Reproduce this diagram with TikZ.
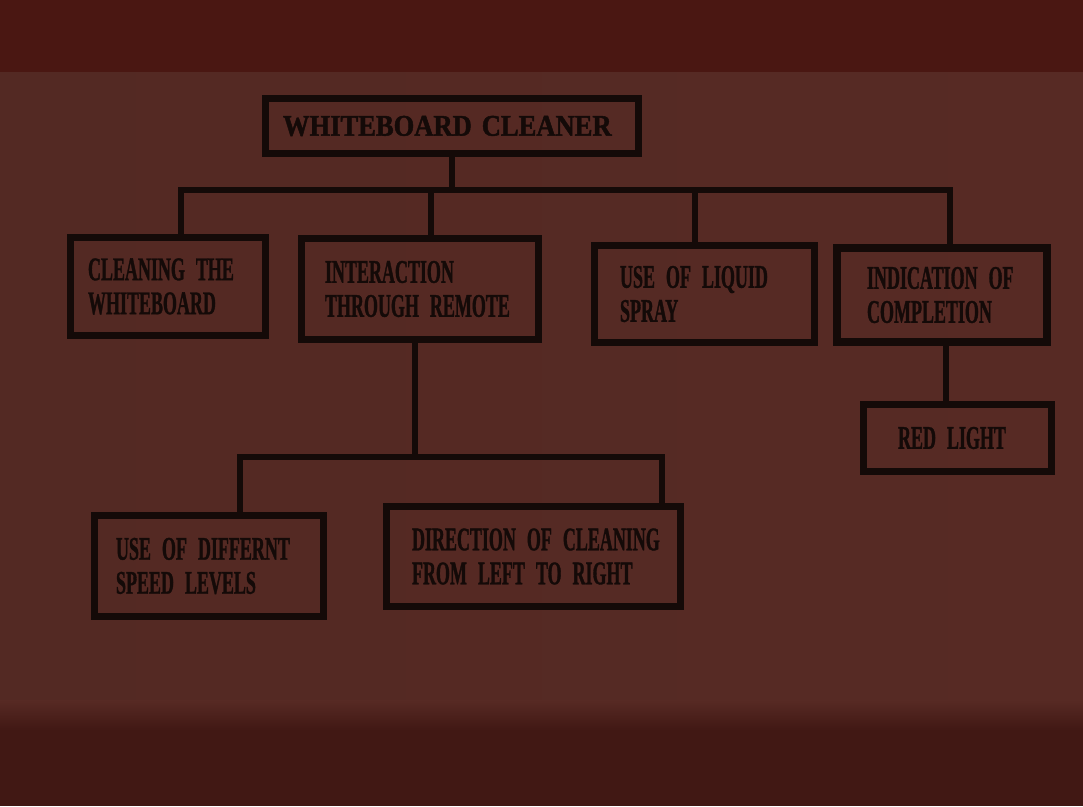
\documentclass[tikz,border=0pt]{standalone}
\usepackage{fontspec}
\newfontfamily\titlefont[FakeStretch=0.885,FakeBold=1.5]{Liberation Serif Bold}
\newfontfamily\boxfont[FakeStretch=0.545,FakeBold=1.0,WordSpace=1.2]{Liberation Serif Bold}
\definecolor{bgtop}{HTML}{4A1712}
\definecolor{bgmid}{HTML}{572A24}
\definecolor{bgmidl}{HTML}{532923}
\definecolor{bgbot}{HTML}{411814}
\definecolor{ink}{HTML}{140A08}
\begin{document}
\begin{tikzpicture}[x=1pt,y=-1pt,
  box/.style={draw=ink, line width=7pt, outer sep=0pt, anchor=north west, align=left,
    font=\boxfont\fontsize{33}{34}\selectfont, text=ink, inner ysep=0pt},
  conn/.style={draw=ink, line width=6pt}]
\useasboundingbox (0,0) rectangle (1083,806);
% background
\fill[bgtop] (0,0) rectangle (1083,72);
\shade[left color=bgmidl, right color=bgmid] (0,72) rectangle (1083,706);
\shade[top color=bgmid, bottom color=bgbot] (0,700) rectangle (1083,730);
\fill[bgbot] (0,730) rectangle (1083,806);
% nodes
\node[box, font=\titlefont\fontsize{30}{32}\selectfont, minimum width=373pt, minimum height=55pt,
  text width=338pt, inner xsep=17.5pt] (title) at (265.5,98.5) {\mbox{WHITEBOARD CLEANER}};
\node[box, minimum width=195pt, minimum height=98pt, text width=160pt, inner xsep=17.5pt]
  (clean) at (70.5,237.5) {\mbox{CLEANING THE}\\\mbox{WHITEBOARD}};
\node[box, minimum width=237pt, minimum height=101pt, text width=190pt, inner xsep=23.5pt]
  (inter) at (301.5,238.5) {\mbox{INTERACTION}\\\mbox{THROUGH REMOTE}};
\node[box, minimum width=220pt, minimum height=97pt, text width=169pt, inner xsep=25.5pt]
  (spray) at (594.5,245.5) {\mbox{USE OF LIQUID}\\\mbox{SPRAY}};
\node[box, line width=8pt, minimum width=210pt, minimum height=94pt, text width=150pt, inner xsep=30pt]
  (indic) at (837,248) {\mbox{INDICATION OF}\\\mbox{COMPLETION}};
\node[box, minimum width=188pt, minimum height=67pt, text width=119pt, inner xsep=34.5pt]
  (red) at (863.5,404.5) {\mbox{RED LIGHT}};
\node[box, minimum width=229pt, minimum height=101pt, text width=186pt, inner xsep=21.5pt]
  (speed) at (94.5,515.5) {\mbox{USE OF DIFFERNT}\\\mbox{SPEED LEVELS}};
\node[box, minimum width=294pt, minimum height=100pt, text width=243pt, inner xsep=25.5pt]
  (dir) at (386.5,506.5) {\mbox{DIRECTION OF CLEANING}\\\mbox{FROM LEFT TO RIGHT}};
% junction coordinates
\coordinate (j1) at (181,190);
\coordinate (j2) at (431,190);
\coordinate (j3) at (695,190);
\coordinate (j4) at (950,190);
\coordinate (k) at (946,0);
\coordinate (m1) at (240,457);
\coordinate (m2) at (415,457);
\coordinate (m3) at (662,457);
% connectors
\draw[conn] (title.south) -- (title.south |- j1);
\draw[conn] (j1 |- clean.north) -- (j1) -- (j4) -- (j4 |- indic.north);
\draw[conn] (j2) -- (j2 |- inter.north);
\draw[conn] (j3) -- (j3 |- spray.north);
\draw[conn] (k |- indic.south) -- (k |- red.north);
\draw[conn] (m2 |- inter.south) -- (m2);
\draw[conn] (m1 |- speed.north) -- (m1) -- (m3) -- (m3 |- dir.north);
\end{tikzpicture}
\end{document}
